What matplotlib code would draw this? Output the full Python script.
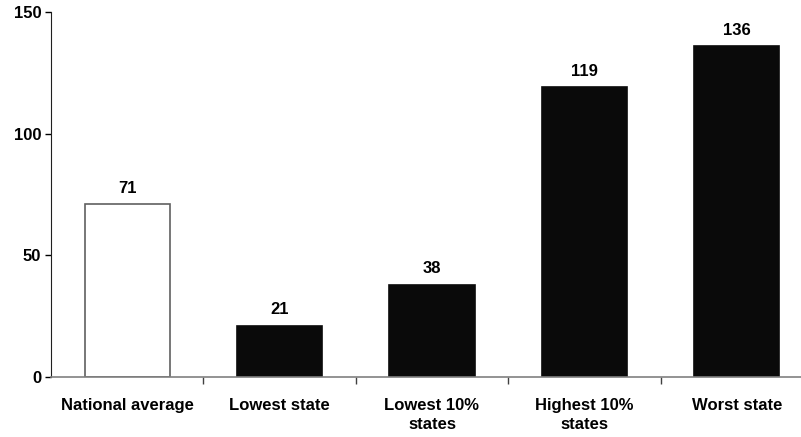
import matplotlib.pyplot as plt

plt.rcParams['font.family'] = ['Liberation Sans', 'DejaVu Sans']
plt.rcParams['font.weight'] = 'bold'

categories = ['National average', 'Lowest state', 'Lowest 10%\nstates',
              'Highest 10%\nstates', 'Worst state']
values = [71, 21, 38, 119, 136]
colors = ['white', '#0a0a0a', '#0a0a0a', '#0a0a0a', '#0a0a0a']
edges = ['#606060', '#0a0a0a', '#0a0a0a', '#0a0a0a', '#0a0a0a']

fig = plt.figure(figsize=(8.01, 4.37), dpi=100)
# axis runs slightly past the right edge of the picture
ax = fig.add_axes([51 / 801, 60 / 437, 762 / 801, 365 / 437])

x = range(len(values))
ax.bar(x, values, width=0.56, color=colors, edgecolor=edges, linewidth=1.2)

for xi, v in zip(x, values):
    ax.text(xi, v + 3.5, str(v), ha='center', va='bottom',
            fontsize=12, fontweight='bold')

ax.set_xlim(-0.5, 4.5)
ax.set_ylim(0, 150)
ax.set_yticks([0, 50, 100, 150])
ax.tick_params(axis='y', length=4, width=1, labelsize=12, pad=3)

# category boundary ticks, labels in between
ax.set_xticks([0.5, 1.5, 2.5, 3.5])
ax.set_xticklabels([])
ax.tick_params(axis='x', length=5, width=1, color='#404040')
for xi, lab in zip(x, categories):
    ax.text(xi, -8.5, lab, ha='center', va='top', fontsize=12,
            fontweight='bold', linespacing=1.35,
            transform=ax.transData)

for s in ['top', 'right']:
    ax.spines[s].set_visible(False)
ax.spines['left'].set_color('#202020')
ax.spines['bottom'].set_color('#808080')
ax.spines['bottom'].set_linewidth(1.2)

fig.savefig('out.png', dpi=100)
